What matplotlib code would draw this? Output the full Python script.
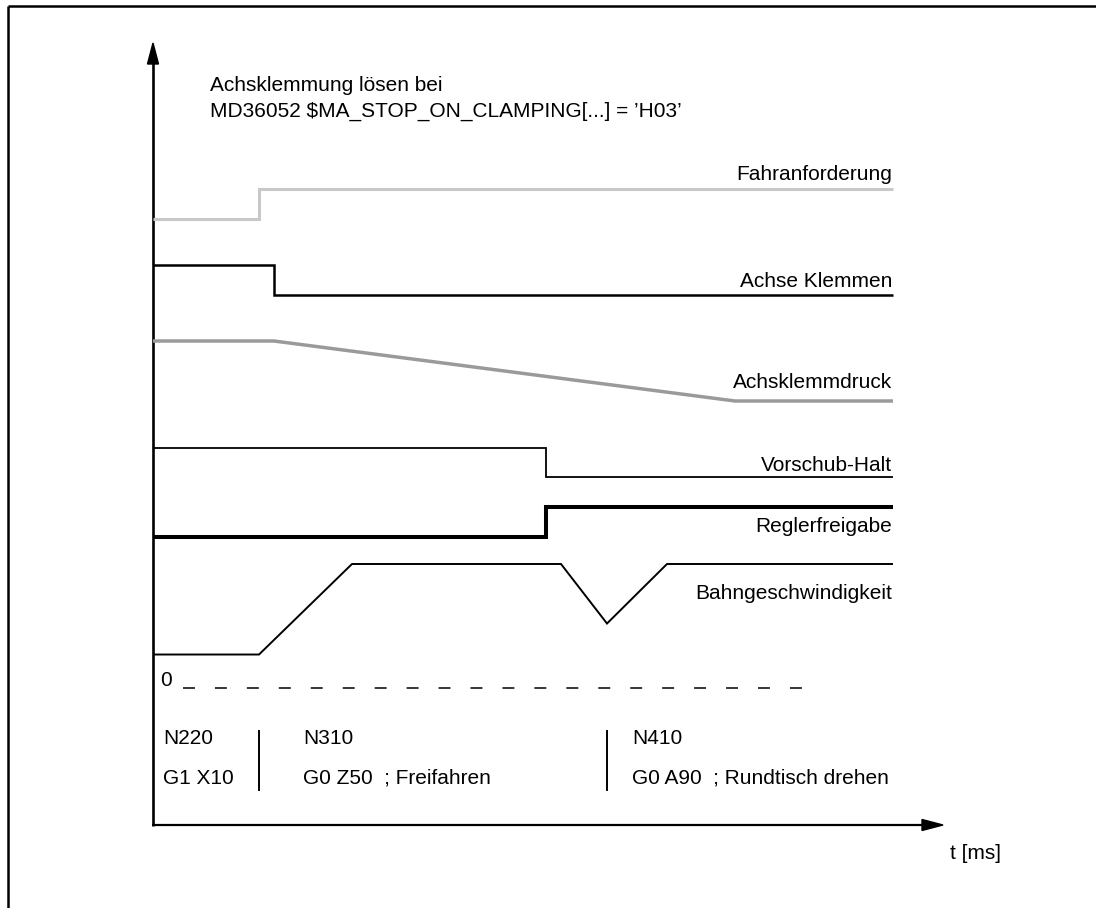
import matplotlib.pyplot as plt
from matplotlib.patches import Polygon

plt.rcParams['font.family'] = ['Liberation Sans', 'DejaVu Sans']
plt.rcParams['lines.scale_dashes'] = False

# time break points (t = 0 at the vertical axis) and signal levels (0 = low, 1 = high)
fahr_t = [0, 106, 106, 740]
fahr_v = [0, 0, 1, 1]
klemm_t = [0, 121, 121, 740]
klemm_v = [1, 1, 0, 0]
druck_t = [0, 121, 582, 740]
druck_v = [1, 1, 0, 0]
vorschub_t = [0, 393, 393, 740]
vorschub_v = [1, 1, 0, 0]
regler_t = [0, 393, 393, 740]
regler_v = [0, 0, 1, 1]
# path speed in % of maximum
bahn_t = [0, 106, 199, 408, 454, 514, 740]
bahn_v = [27, 27, 100, 100, 52, 100, 100]

signal_names = ['Fahranforderung', 'Achse Klemmen', 'Achsklemmdruck',
                'Vorschub-Halt', 'Reglerfreigabe', 'Bahngeschwindigkeit']
block_numbers = ['N220', 'N310', 'N410']
block_codes = ['G1 X10', 'G0 Z50  ; Freifahren', 'G0 A90  ; Rundtisch drehen']
block_bounds = [106, 454]   # block changes on the time axis
title_lines = ['Achsklemmung lösen bei',
               'MD36052 $MA_STOP_ON_CLAMPING[...] = \u2019H03\u2019']

X0 = 153    # pixel x of time origin
FS = 15

fig = plt.figure(figsize=(10.96, 9.08), dpi=100)
ax = fig.add_axes([0, 0, 1, 1])
ax.set_xlim(-X0, 1096 - X0)
ax.set_ylim(908, 0)
ax.axis('off')

# outer frame (top and left edge)
ax.plot([8 - X0, 1096 - X0], [6, 6], color='black', lw=1.8, solid_capstyle='butt')
ax.plot([8 - X0, 8 - X0], [6, 908], color='black', lw=1.8, solid_capstyle='butt')

# axes with arrow heads
ax.plot([0, 0], [826, 60], color='black', lw=1.9, solid_capstyle='butt')
ax.add_patch(Polygon([[0, 43], [-5.5, 64], [5.5, 64]], closed=True, color='black'))
ax.plot([-1, 772], [825, 825], color='black', lw=1.6, solid_capstyle='butt')
ax.add_patch(Polygon([[790, 825], [769, 819.5], [769, 830.5]], closed=True, color='black'))
ax.text(797, 859, 't [ms]', fontsize=FS, ha='left', va='baseline')


def lane(t, v, base, height):
    return t, [base - lv * height for lv in v]


# (data, lane base px, lane height px, colour, lw, label baseline px)
signals = [
    (fahr_t, fahr_v, 219, 30, '#c8c8c8', 2.2, 180),
    (klemm_t, klemm_v, 295, 30, 'black', 1.8, 287),
    (druck_t, druck_v, 401, 60, '#9a9a9a', 2.5, 388),
    (vorschub_t, vorschub_v, 477, 29, 'black', 1.3, 471),
    (regler_t, regler_v, 537, 30, 'black', 2.9, 532),
    (bahn_t, bahn_v, 688, 1.24, 'black', 1.4, 599),
]
for name, (t, v, base, h, col, lw, ty) in zip(signal_names, signals):
    xs, ys = lane(t, v, base, h)
    ax.plot(xs, ys, color=col, lw=lw, solid_joinstyle='miter', solid_capstyle='butt')
    ax.text(t[-1] - 1, ty, name, fontsize=FS, ha='right', va='baseline')

# zero line of path speed
ax.plot([30, 650], [688, 688], color='black', lw=1.1, linestyle=(0, (8.6, 14.4)))
ax.text(7, 686, '0', fontsize=FS, ha='left', va='baseline')

# title
ax.text(57, 91, title_lines[0], fontsize=FS, ha='left', va='baseline')
ax.text(57, 117, title_lines[1], fontsize=FS, ha='left', va='baseline')

# NC blocks
for tb in block_bounds:
    ax.plot([tb, tb], [731, 790], color='black', lw=1.4)
text_x = [10, 150, 479]
for tx, num, code in zip(text_x, block_numbers, block_codes):
    ax.text(tx, 744, num, fontsize=FS, ha='left', va='baseline')
    ax.text(tx, 784, code, fontsize=FS, ha='left', va='baseline')

plt.savefig('out.png', dpi=100)
